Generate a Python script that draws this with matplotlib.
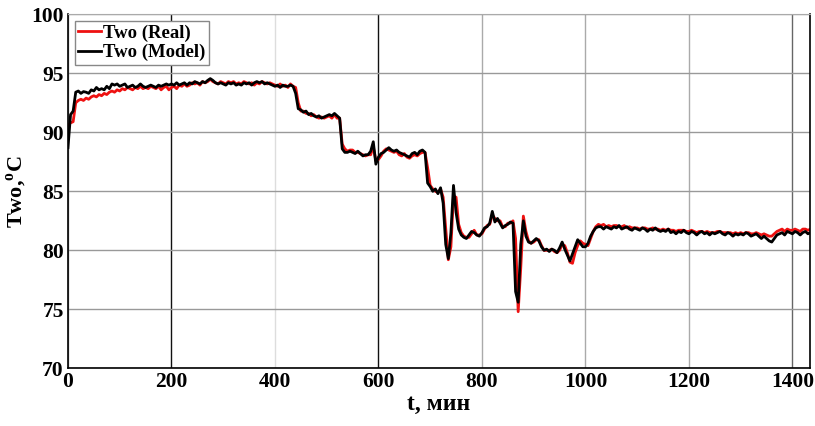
import numpy as np
import matplotlib
matplotlib.use("Agg")
import matplotlib.pyplot as plt

# time axis, minutes (5 min sampling)
t_min = np.arange(0, 1440, 5)

# Two (Real)
two_real = [
    90.6, 90.8, 90.9, 92.5, 92.7, 92.8, 92.7, 92.9, 92.8, 93.0,
    93.1, 93.0, 93.2, 93.1, 93.3, 93.2, 93.4, 93.5, 93.4, 93.6,
    93.5, 93.7, 93.6, 93.8, 93.7, 93.6, 93.8, 93.7, 93.9, 93.7,
    93.8, 93.7, 93.9, 93.8, 93.7, 93.9, 93.6, 93.8, 93.9, 93.6,
    93.8, 93.9, 93.7, 94.0, 93.9, 94.1, 93.9, 94.0, 94.2, 94.1,
    94.2, 94.0, 94.3, 94.2, 94.3, 94.5, 94.3, 94.2, 94.1, 94.3,
    94.2, 94.1, 94.3, 94.2, 94.3, 94.1, 94.2, 94.1, 94.3, 94.2,
    94.1, 94.2, 94.0, 94.2, 94.1, 94.3, 94.2, 94.1, 94.2, 94.1,
    94.0, 93.9, 94.1, 93.9, 94.0, 93.8, 94.1, 93.9, 93.8, 92.5,
    91.8, 91.8, 91.6, 91.6, 91.4, 91.5, 91.3, 91.2, 91.3, 91.2,
    91.3, 91.4, 91.2, 91.5, 91.2, 91.2, 89.0, 88.6, 88.4, 88.5,
    88.5, 88.3, 88.3, 88.2, 88.1, 88.0, 88.1, 88.1, 88.8, 87.6,
    87.7, 88.0, 88.4, 88.6, 88.5, 88.4, 88.3, 88.4, 88.1, 88.0,
    88.2, 87.9, 87.8, 88.0, 88.1, 88.0, 88.2, 88.3, 88.3, 87.0,
    85.5, 85.2, 85.0, 84.9, 85.2, 84.5, 81.8, 79.2, 80.3, 84.6,
    84.5, 82.2, 81.5, 81.2, 81.1, 81.1, 81.4, 81.7, 81.3, 81.3,
    81.4, 81.8, 82.1, 82.2, 83.0, 82.7, 82.5, 82.5, 82.0, 82.0,
    82.3, 82.3, 82.5, 81.0, 74.8, 78.5, 82.9, 81.6, 80.8, 80.6,
    80.7, 80.9, 80.9, 80.4, 80.0, 80.0, 80.0, 80.1, 79.9, 79.8,
    80.0, 80.5, 80.4, 79.8, 79.0, 78.9, 79.8, 80.4, 80.8, 80.6,
    80.5, 80.4, 81.0, 81.6, 82.0, 82.2, 82.1, 82.2, 82.0, 82.1,
    82.0, 82.1, 82.1, 82.0, 82.0, 82.1, 81.9, 82.0, 81.9, 81.9,
    81.9, 81.8, 81.9, 81.9, 81.8, 81.8, 81.9, 81.8, 81.8, 81.7,
    81.8, 81.7, 81.8, 81.7, 81.7, 81.6, 81.7, 81.7, 81.7, 81.6,
    81.6, 81.7, 81.6, 81.5, 81.6, 81.6, 81.5, 81.6, 81.5, 81.5,
    81.5, 81.6, 81.6, 81.5, 81.5, 81.5, 81.5, 81.4, 81.5, 81.4,
    81.5, 81.4, 81.5, 81.5, 81.4, 81.4, 81.5, 81.4, 81.3, 81.4,
    81.3, 81.2, 81.2, 81.4, 81.6, 81.7, 81.8, 81.6, 81.8, 81.7,
    81.7, 81.8, 81.7, 81.6, 81.8, 81.8, 81.7, 81.8,
]

# Two (Model)
two_model = [
    88.7, 91.5, 91.8, 93.4, 93.5, 93.3, 93.45, 93.4, 93.3, 93.6,
    93.5, 93.8, 93.6, 93.7, 93.6, 93.9, 93.7, 94.1, 94.0, 94.1,
    93.9, 94.0, 94.1, 93.8, 93.9, 94.0, 93.8, 93.9, 94.1, 93.9,
    93.8, 93.9, 94.0, 93.9, 93.8, 94.0, 93.9, 94.0, 94.1, 94.0,
    94.1, 94.0, 94.2, 94.0, 94.1, 94.2, 94.0, 94.2, 94.1, 94.3,
    94.2, 94.1, 94.3, 94.2, 94.4, 94.55, 94.4, 94.2, 94.1, 94.2,
    94.1, 94.0, 94.2, 94.1, 94.2, 94.0, 94.1, 94.0, 94.2, 94.1,
    94.2, 94.0, 94.2, 94.3, 94.2, 94.3, 94.1, 94.2, 94.1, 94.0,
    93.9, 94.0, 93.8, 94.0, 93.9, 93.9, 94.0, 93.9, 93.3, 92.0,
    91.9, 91.7, 91.8, 91.5, 91.6, 91.4, 91.3, 91.4, 91.2, 91.3,
    91.4, 91.5, 91.4, 91.6, 91.4, 91.2, 88.6, 88.3, 88.3, 88.4,
    88.3, 88.2, 88.4, 88.2, 88.0, 88.1, 88.1, 88.4, 89.2, 87.3,
    87.9, 88.2, 88.3, 88.5, 88.7, 88.5, 88.4, 88.5, 88.3, 88.2,
    88.1, 88.0, 87.9, 88.2, 88.3, 88.1, 88.4, 88.5, 88.3, 85.7,
    85.4, 85.0, 85.2, 84.8, 85.3, 84.0, 80.5, 79.3, 81.5, 85.5,
    83.2, 81.8, 81.3, 81.1, 81.0, 81.3, 81.6, 81.5, 81.3, 81.2,
    81.5, 81.9, 82.0, 82.3, 83.3, 82.4, 82.7, 82.3, 81.9, 82.1,
    82.2, 82.4, 82.3, 76.5, 75.6, 80.5, 82.5, 81.2, 80.7, 80.6,
    80.8, 81.0, 80.8, 80.3, 80.0, 80.1, 79.9, 80.1, 80.0, 79.8,
    80.2, 80.7, 80.1, 79.6, 79.1, 79.7, 80.3, 80.9, 80.6, 80.3,
    80.3, 80.6, 81.2, 81.6, 81.9, 82.0, 82.0, 81.8, 82.0, 81.9,
    81.8, 82.0, 81.9, 82.1, 81.8, 81.9, 82.0, 81.8, 81.7, 81.9,
    81.8, 81.7, 81.9, 81.8, 81.6, 81.8, 81.7, 81.9, 81.7, 81.6,
    81.7, 81.6, 81.8, 81.5, 81.6, 81.4, 81.6, 81.5, 81.7, 81.5,
    81.4, 81.6, 81.5, 81.3, 81.5, 81.6, 81.4, 81.5, 81.3, 81.5,
    81.4, 81.5, 81.6, 81.4, 81.3, 81.5, 81.4, 81.2, 81.4, 81.3,
    81.4, 81.3, 81.5, 81.4, 81.2, 81.3, 81.4, 81.2, 81.0, 81.2,
    81.0, 80.8, 80.7, 81.0, 81.3, 81.4, 81.5, 81.3, 81.6, 81.5,
    81.4, 81.6, 81.5, 81.3, 81.5, 81.6, 81.4, 81.5,
]

x_ticks = [0, 200, 400, 600, 800, 1000, 1200, 1400]
y_ticks = [70, 75, 80, 85, 90, 95, 100]

plt.rcParams['font.family'] = ['Liberation Serif', 'DejaVu Serif']
plt.rcParams['font.weight'] = 'bold'

fig = plt.figure(figsize=(8.15, 4.26), dpi=100)
ax = fig.add_axes([0.0834, 0.1354, 0.9105, 0.831])

ax.plot(t_min, two_real, color='#ee1111', lw=2.0, label='Two (Real)')
ax.plot(t_min, two_model, color='black', lw=2.0, label='Two (Model)')

ax.set_xlim(0, 1434)
ax.set_ylim(70, 100)
ax.set_xticks(x_ticks)
ax.set_yticks(y_ticks)
ax.tick_params(length=0, labelsize=15.5, pad=3)
for lab in ax.get_xticklabels() + ax.get_yticklabels():
    lab.set_fontweight('bold')

# grid: mixed shades as in the original figure
ax.grid(True, color='#999999', lw=1.0)
xg_colors = ['#999999', '#111111', '#dddddd', '#111111', '#aaaaaa', '#aaaaaa', '#aaaaaa', '#666666']
for gl, c in zip(ax.get_xgridlines(), xg_colors):
    gl.set_color(c)
ax.set_axisbelow(True)

for s in ['left', 'bottom', 'right']:
    ax.spines[s].set_color('black')
    ax.spines[s].set_linewidth(1.2)
ax.spines['top'].set_color('#aaaaaa')

ax.set_xlabel('t, мин', fontsize=17, fontweight='bold', labelpad=1)
ax.set_ylabel('Two,$^\\mathregular{o}$C', fontsize=16, fontweight='bold')
ax.yaxis.set_label_coords(-0.052, 0.5)

leg = ax.legend(loc='upper left', handlelength=1.2, handletextpad=0.1,
                borderpad=0.2, labelspacing=0.1, fancybox=False, framealpha=1,
                borderaxespad=0.35, prop={'weight': 'bold', 'size': 13.5})
leg.get_frame().set_edgecolor('#888888')

fig.savefig('out.png', dpi=100)
